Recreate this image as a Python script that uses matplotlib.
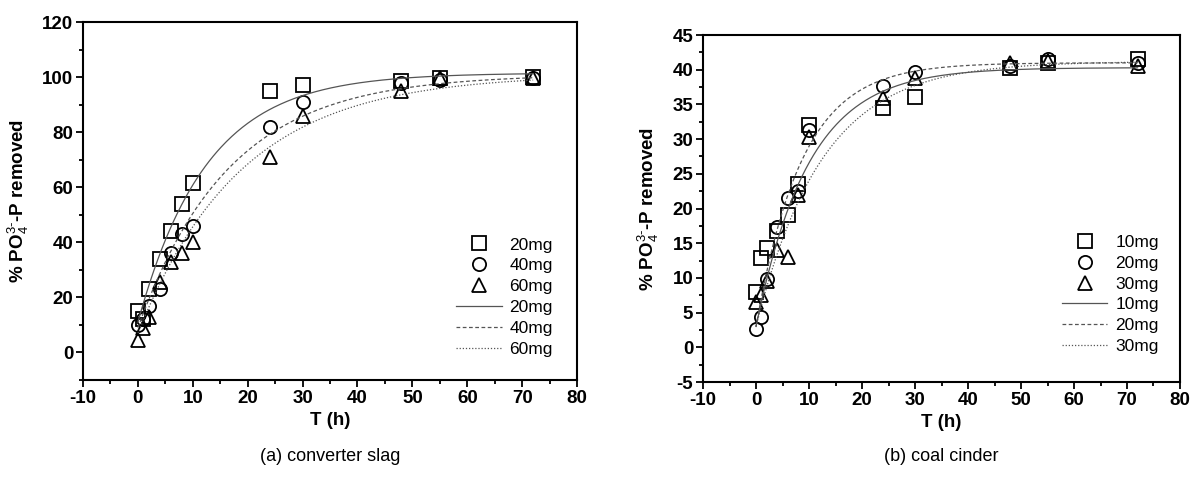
import numpy as np
import matplotlib
matplotlib.use("Agg")
import matplotlib.pyplot as plt
from matplotlib.ticker import MultipleLocator

plt.rcParams['font.family'] = ['Liberation Sans', 'DejaVu Sans']
plt.rcParams['mathtext.fontset'] = 'custom'
plt.rcParams['mathtext.rm'] = 'Liberation Sans'
plt.rcParams['mathtext.bf'] = 'Liberation Sans:bold'
plt.rcParams['mathtext.default'] = 'bf'
plt.rcParams['axes.unicode_minus'] = False

# ---------------- data: (a) converter slag ----------------
t_a = [0, 1, 2, 4, 6, 8, 10, 24, 30, 48, 55, 72]
a_20mg = [15, 12, 23, 34, 44, 54, 61.5, 95, 97, 98.5, 99.5, 100]
a_40mg = [10, 12, 17, 23, 36, 43, 46, 82, 91, 98, 99, 99.5]
a_60mg = [4.5, 9, 13, 25.7, 33, 36, 40, 71, 86, 95, 99.5, 99.5]
labels_a = ['20mg', '40mg', '60mg']
# first-order fit parameters (plateau, start, rate)
fit_a = {'20mg': (101.5, 11.0, 0.080),
         '40mg': (101.0, 9.0, 0.060),
         '60mg': (101.0, 7.0, 0.053)}

# ---------------- data: (b) coal cinder ----------------
t_b = [0, 1, 2, 4, 6, 8, 10, 24, 30, 48, 55, 72]
b_10mg = [8, 12.8, 14.3, 16.8, 19, 23.6, 32, 34.5, 36, 40.2, 41, 41.5]
b_20mg = [2.7, 4.3, 9.8, 17.3, 21.5, 22.5, 31.3, 37.6, 39.7, 40.5, 41.5, 41]
b_30mg = [6.5, 7.5, 9.5, 14, 13, 21.9, 30.3, 35.9, 38.8, 41, 41.2, 40.6]
labels_b = ['10mg', '20mg', '30mg']
fit_b = {'10mg': (40.3, 3.0, 0.100),
         '20mg': (41.0, 3.0, 0.115),
         '30mg': (41.2, 3.0, 0.080)}

markers = ['s', 'o', '^']
linestyles = ['-', (0, (3, 2)), (0, (1, 1.5))]
line_color = '#555555'

fig = plt.figure(figsize=(11.93, 4.79), dpi=100)
ax1 = fig.add_axes([0.0696, 0.2067, 0.4141, 0.7473])
ax2 = fig.add_axes([0.5893, 0.2025, 0.3998, 0.7244])


def draw(ax, t, series, labels, fits, ylim, ymaj, ymin, leg_anchor):
    tt = np.linspace(0, 72, 300)
    handles = []
    for y, lab, m in zip(series, labels, markers):
        h, = ax.plot(t, y, linestyle='none', marker=m, markersize=9.5,
                     markerfacecolor='none', markeredgecolor='black',
                     markeredgewidth=1.3, label=lab)
        handles.append(h)
    for lab, ls in zip(labels, linestyles):
        A, y0, k = fits[lab]
        h, = ax.plot(tt, A - (A - y0) * np.exp(-k * tt), color=line_color,
                     linestyle=ls, linewidth=0.9, label=lab)
        handles.append(h)
    ax.set_xlim(-10, 80)
    ax.set_ylim(*ylim)
    ax.xaxis.set_major_locator(MultipleLocator(10))
    ax.xaxis.set_minor_locator(MultipleLocator(5))
    ax.yaxis.set_major_locator(MultipleLocator(ymaj))
    ax.yaxis.set_minor_locator(MultipleLocator(ymin))
    ax.tick_params(which='both', direction='out', top=False, right=False,
                   width=1.3)
    ax.tick_params(which='major', length=5, labelsize=13.5, pad=2)
    ax.tick_params(which='minor', length=3)
    for lbl in ax.get_xticklabels() + ax.get_yticklabels():
        lbl.set_fontweight('bold')
    for s in ax.spines.values():
        s.set_linewidth(1.5)
    ax.set_xlabel('T (h)', fontsize=13.5, fontweight='bold', labelpad=4)
    ax.set_ylabel(r'% PO$_{\mathrm{4}}^{\text{3-}}$-P removed',
                  fontsize=13.5, fontweight='bold', labelpad=8)
    ax.legend(handles=handles, loc='lower right', bbox_to_anchor=leg_anchor,
              frameon=False, fontsize=12.5, handlelength=2.6,
              handletextpad=0.45, labelspacing=0.33, borderaxespad=0,
              markerfirst=True)


draw(ax1, t_a, [a_20mg, a_40mg, a_60mg], labels_a, fit_a,
     (-10, 120), 20, 10, (0.965, 0.045))
draw(ax2, t_b, [b_10mg, b_20mg, b_30mg], labels_b, fit_b,
     (-5, 45), 5, 2.5, (0.97, 0.06))

fig.text(0.2767, 0.048, '(a) converter slag', ha='center', va='center',
         fontsize=13)
fig.text(0.7892, 0.048, '(b) coal cinder', ha='center', va='center',
         fontsize=13)

fig.savefig('out.png', dpi=100)
